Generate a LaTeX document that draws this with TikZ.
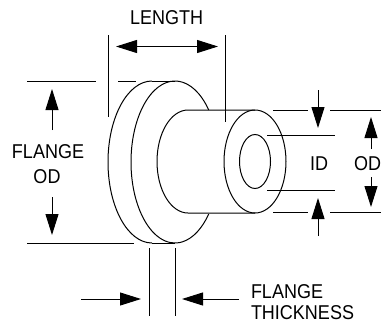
\documentclass[tikz,border=0pt]{standalone}
\usepackage{fontspec}
\setmainfont[FakeStretch=0.9]{Liberation Sans}
\usetikzlibrary{arrows.meta}
\tikzset{
  part/.style={line width=1pt,black},
  ext/.style={line width=1pt,black},
  dim/.style={line width=1pt,black,-{Triangle[length=21pt,width=13pt]},shorten >=0pt},
  dimboth/.style={line width=1pt,black,{Triangle[length=21pt,width=13pt]}-{Triangle[length=21pt,width=13pt]}},
  lab/.style={inner sep=0pt,outer sep=0pt,font=\fontsize{20}{21}\selectfont,anchor=base west}
}
\begin{document}
\begin{tikzpicture}[x=1pt,y=-1pt]
\useasboundingbox (0,0) rectangle (381,322);
% key coordinates
\coordinate (fa) at (152,162);
\coordinate (fb) at (175,162);
\coordinate (hub) at (188,161.5);
\coordinate (face) at (255,161.5);
% flange
\draw[part] ([shift={(270:44 and 81)}]fa) coordinate (fat) arc[start angle=270,end angle=90,x radius=44,y radius=81] coordinate (fab);
\draw[part] ([shift={(320:44 and 81)}]fb) arc[start angle=320,end angle=40,x radius=44,y radius=81];
\draw[part] (fat) -- ([shift={(270:44 and 81)}]fb);
\draw[part] (fab) -- ([shift={(90:44 and 81)}]fb);
% hub
\draw[part] ([shift={(0,-51.5)}]face) coordinate (ft) -- ([shift={(0,-51.5)}]hub) arc[start angle=270,end angle=90,x radius=31,y radius=51.5] -- ([shift={(0,51.5)}]face) coordinate (fbm);
\draw[part] (face) ellipse[x radius=31,y radius=51.5];
\draw[part] (face) ellipse[x radius=15.5,y radius=27];
% extension lines
\coordinate (l1a) at (108,35); \coordinate (l1b) at (108,117);
\coordinate (l2a) at (225.5,35); \coordinate (l2b) at (225.5,122);
\draw[ext] (l1a) -- (l1b);
\draw[ext] (l2a) -- (l2b);
\coordinate (o1a) at (27,81); \coordinate (o1b) at (96,81);
\coordinate (o2a) at (118,81); \coordinate (o2b) at (136,81);
\coordinate (o3a) at (27,243); \coordinate (o3b) at (134,243);
\draw[ext] (o1a) -- (o1b);
\draw[ext] (o2a) -- (o2b);
\draw[ext] (o3a) -- (o3b);
\coordinate (i1a) at (267,135); \coordinate (i1b) at (335,135);
\coordinate (i2a) at (267,190); \coordinate (i2b) at (335,190);
\draw[ext] (i1a) -- (i1b);
\draw[ext] (i2a) -- (i2b);
\coordinate (d1a) at (273,110.5); \coordinate (d1b) at (308,110.5);
\coordinate (d2a) at (330,110.5); \coordinate (d2b) at (381,110.5);
\coordinate (d3a) at (273,212); \coordinate (d3b) at (308,212);
\coordinate (d4a) at (330,212); \coordinate (d4b) at (381,212);
\draw[ext] (d1a) -- (d1b);
\draw[ext] (d2a) -- (d2b);
\draw[ext] (d3a) -- (d3b);
\draw[ext] (d4a) -- (d4b);
\coordinate (t1a) at (149,248); \coordinate (t1b) at (149,316);
\coordinate (t2a) at (175,248); \coordinate (t2b) at (175,316);
\draw[ext] (t1a) -- (t1b);
\draw[ext] (t2a) -- (t2b);
% dimension arrows
\coordinate (la) at (116,46.5); \coordinate (lb) at (218,46.5);
\draw[dimboth] (la) -- (lb);
\coordinate (a1) at (52,130); \coordinate (a2) at (52,89);
\draw[dim] (a1) -- (a2);
\coordinate (a3) at (52,197); \coordinate (a4) at (52,235);
\draw[dim] (a3) -- (a4);
\coordinate (b1) at (318,90); \coordinate (b2) at (318,128);
\draw[dim] (b1) -- (b2);
\coordinate (b3) at (318,236); \coordinate (b4) at (318,198);
\draw[dim] (b3) -- (b4);
\coordinate (c1) at (371,149); \coordinate (c2) at (371,117);
\draw[dim] (c1) -- (c2);
\coordinate (c3) at (371,177); \coordinate (c4) at (371,207);
\draw[dim] (c3) -- (c4);
\coordinate (e1) at (81,299); \coordinate (e2) at (141,299);
\draw[dim] (e1) -- (e2);
\coordinate (e3) at (239,299); \coordinate (e4) at (182,299);
\draw[dim] (e3) -- (e4);
% labels
\node[lab] (tlen) at (130,24) {LENGTH};
\node[lab] (tf1) at (12,158) {FLANGE};
\node[lab] (tf2) at (33.5,183) {OD};
\node[lab] (tid) at (310,170) {ID};
\node[lab] (tod) at (354,170) {OD};
\node[lab] (tt1) at (251,298) {FLANGE};
\node[lab] (tt2) at (251,319) {THICKNESS};
\end{tikzpicture}
\end{document}
